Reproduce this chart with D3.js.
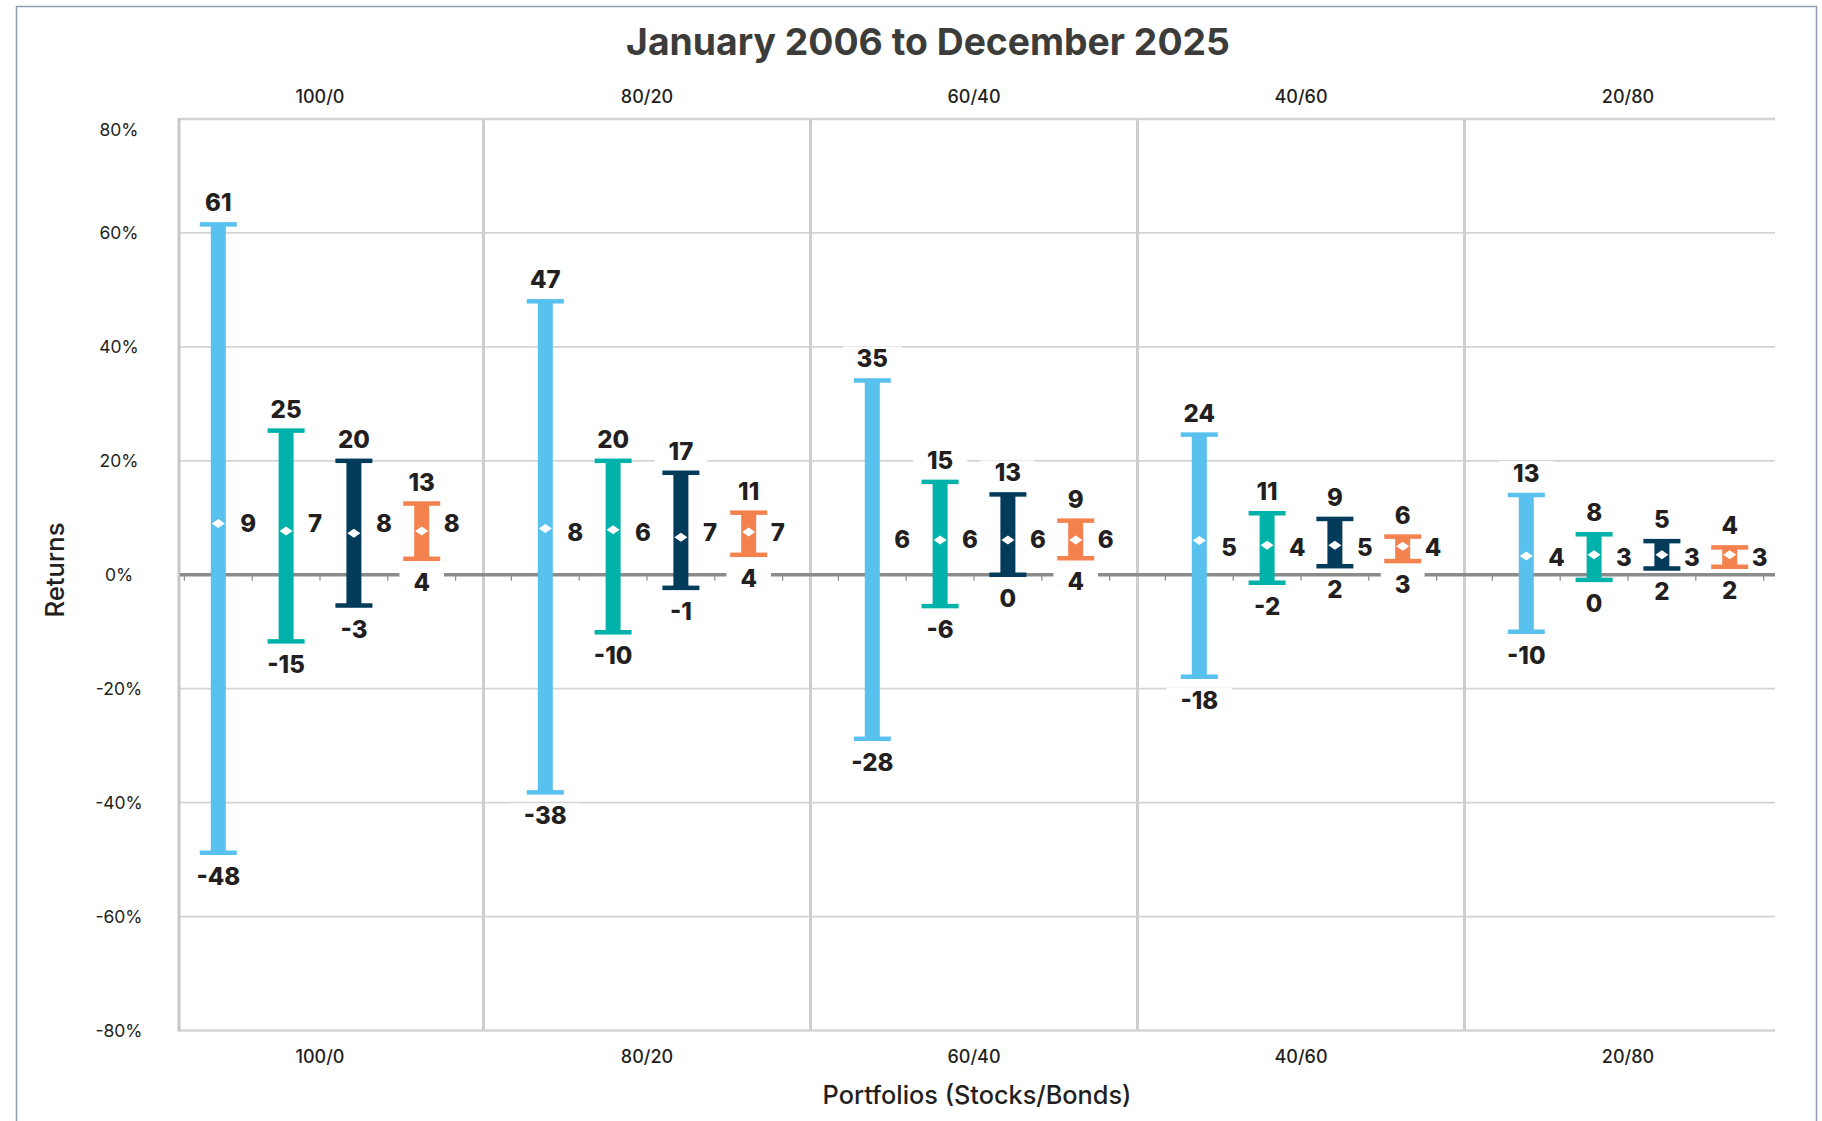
<!DOCTYPE html>
<html>
<head>
<meta charset="utf-8">
<script src="https://cdn.jsdelivr.net/npm/d3@7"></script>
<style>
  body { margin: 0; background: #fff; }
  text { font-family: Inter, "Open Sans", sans-serif; }
</style>
</head>
<body>
<script>
// portfolios (stocks/bonds) and the four range series inside each one
var portfolios = ["100/0", "80/20", "60/40", "40/60", "20/80"];
var seriesColors = ["#58c1ee", "#00b2a9", "#033b5b", "#f4824f"];

// drawn extent of each range (percent), one row per portfolio
var highs = [
  [61.5, 25.3, 20.0, 12.5],
  [48.0, 20.0, 17.9, 10.9],
  [34.1, 16.3, 14.1, 9.5],
  [24.6, 10.8, 9.8, 6.7],
  [14.0, 7.1, 5.9, 4.8]
];
var lows = [
  [-48.8, -11.7, -5.4, 2.8],
  [-38.2, -10.1, -2.3, 3.5],
  [-28.8, -5.5, 0.0, 2.9],
  [-17.9, -1.4, 1.5, 2.4],
  [-10.0, -0.9, 1.1, 1.4]
];
// mean markers (null = no marker shown)
var means = [
  [9.0, 7.7, 7.3, 7.7],
  [8.1, 7.9, 6.6, 7.5],
  [null, 6.1, 6.1, 6.1],
  [6.0, 5.2, 5.2, 5.0],
  [3.3, 3.5, 3.5, 3.5]
];

// printed labels
var highLabels = [[61, 25, 20, 13], [47, 20, 17, 11], [35, 15, 13, 9], [24, 11, 9, 6], [13, 8, 5, 4]];
var lowLabels = [[-48, -15, -3, 4], [-38, -10, -1, 4], [-28, -6, 0, 4], [-18, -2, 2, 3], [-10, 0, 2, 2]];
var meanLabels = [[9, 7, 8, 8], [8, 6, 7, 7], [6, 6, 6, 6], [5, 4, 5, 4], [4, 3, 3, 3]];
var meanLabelLevel = [9.0, 7.4, 6.3, 4.8, 3.1];

var yTicks = [80, 60, 40, 20, 0, -20, -40, -60, -80];

var width = 1822, height = 1121;
var plotLeft = 180, plotRight = 1775, plotTop = 119, plotBottom = 1030.5;

var svg = d3.select("body").append("svg")
  .attr("width", width)
  .attr("height", height);

//outer frame
svg.append("rect")
  .attr("x", 16.5).attr("y", 6.5)
  .attr("width", 1800).attr("height", 1200)
  .attr("fill", "none")
  .attr("stroke", "#8e9cb4")
  .attr("stroke-width", 1.5);

var y = d3.scaleLinear().domain([-80, 80]).range([plotBottom, plotTop]);

var xGroup = d3.scaleBand().domain(portfolios).range([156.5, 1791.5]);
var xInner = d3.scaleBand().domain(d3.range(4)).range([-135.6, 135.6]);

function groupCenter(p) { return xGroup(p) + xGroup.bandwidth() / 2; }
function barX(gi, si) { return groupCenter(portfolios[gi]) + xInner(si) + xInner.bandwidth() / 2; }

//horizontal gridlines
svg.append("g").selectAll("line")
  .data(yTicks.filter(function(d) { return d !== 0; }))
  .enter().append("line")
  .attr("x1", plotLeft).attr("x2", plotRight)
  .attr("y1", function(d) { return y(d); })
  .attr("y2", function(d) { return y(d); })
  .attr("stroke", "#d3d4d6")
  .attr("stroke-width", function(d) { return Math.abs(d) === 80 ? 2.5 : 1.8; });

//group separators
svg.append("g").selectAll("line")
  .data(portfolios.slice(1))
  .enter().append("line")
  .attr("x1", function(d) { return xGroup(d); })
  .attr("x2", function(d) { return xGroup(d); })
  .attr("y1", plotTop).attr("y2", plotBottom)
  .attr("stroke", "#cdced0")
  .attr("stroke-width", 3);

//left axis line
svg.append("line")
  .attr("x1", plotLeft - 1).attr("x2", plotLeft - 1)
  .attr("y1", plotTop - 1).attr("y2", plotBottom + 1)
  .attr("stroke", "#c6c7c9")
  .attr("stroke-width", 3);

//zero line with ticks
svg.append("line")
  .attr("x1", plotLeft).attr("x2", plotRight)
  .attr("y1", y(0)).attr("y2", y(0))
  .attr("stroke", "#8b8b8b")
  .attr("stroke-width", 3.5);

var tickXs = [];
portfolios.forEach(function(p) {
  d3.range(5).forEach(function(k) {
    tickXs.push(groupCenter(p) - 135.6 + k * xInner.bandwidth());
  });
});
svg.append("g").selectAll("line")
  .data(tickXs)
  .enter().append("line")
  .attr("x1", function(d) { return d; })
  .attr("x2", function(d) { return d; })
  .attr("y1", y(0)).attr("y2", y(0) + 6)
  .attr("stroke", "#8b8b8b")
  .attr("stroke-width", 1.2);

//y tick labels
svg.append("g").selectAll("text")
  .data(yTicks)
  .enter().append("text")
  .attr("x", 119)
  .attr("y", function(d) { return y(d) + (d === 80 ? 11 : 0); })
  .attr("dy", "0.36em")
  .attr("text-anchor", "middle")
  .attr("font-size", 17.5)
  .attr("fill", "#231f20")
  .text(function(d) { return d + "%"; });

//category labels, top and bottom
[102.5, 1062.5].forEach(function(ty) {
  svg.append("g").selectAll("text")
    .data(portfolios)
    .enter().append("text")
    .attr("x", function(d) { return groupCenter(d); })
    .attr("y", ty)
    .attr("text-anchor", "middle")
    .attr("font-size", 18)
    .attr("font-weight", 500)
    .attr("fill", "#231f20")
    .text(function(d) { return d; });
});

//make a text fit a measured width
function fitWidth(sel, target) {
  var fs = +sel.attr("font-size");
  var w = sel.node().getComputedTextLength();
  sel.attr("font-size", fs * target / w);
}

//title
var title = svg.append("text")
  .attr("x", 928).attr("y", 55)
  .attr("text-anchor", "middle")
  .attr("font-size", 32)
  .attr("font-weight", 700)
  .attr("fill", "#3c3c3a")
  .text("January 2006 to December 2025");
fitWidth(title, 604);

//axis titles
var xTitle = svg.append("text")
  .attr("x", 977).attr("y", 1104)
  .attr("text-anchor", "middle")
  .attr("font-size", 21)
  .attr("font-weight", 500)
  .attr("fill", "#231f20")
  .text("Portfolios (Stocks/Bonds)");
fitWidth(xTitle, 309);

var yTitle = svg.append("text")
  .attr("transform", "translate(64,570) rotate(-90)")
  .attr("text-anchor", "middle")
  .attr("font-size", 21)
  .attr("font-weight", 500)
  .attr("fill", "#231f20")
  .text("Returns");
fitWidth(yTitle, 95);

//layers
var boxLayer = svg.append("g");
var barLayer = svg.append("g");
var textLayer = svg.append("g");

//flatten data into one record per range
var ranges = [];
portfolios.forEach(function(p, gi) {
  d3.range(4).forEach(function(si) {
    ranges.push({
      gi: gi, si: si,
      hi: highs[gi][si], lo: lows[gi][si], mean: means[gi][si],
      hiLab: highLabels[gi][si], loLab: lowLabels[gi][si], meanLab: meanLabels[gi][si]
    });
  });
});

var stemW = 15, capW = 37, capH = 4.5;

barLayer.selectAll(".stem")
  .data(ranges)
  .enter().append("rect")
  .attr("class", "stem")
  .attr("x", function(d) { return barX(d.gi, d.si) - stemW / 2; })
  .attr("y", function(d) { return y(d.hi); })
  .attr("width", stemW)
  .attr("height", function(d) { return y(d.lo) - y(d.hi); })
  .attr("fill", function(d) { return seriesColors[d.si]; });

["hi", "lo"].forEach(function(k) {
  barLayer.selectAll(".cap-" + k)
    .data(ranges)
    .enter().append("rect")
    .attr("class", "cap-" + k)
    .attr("x", function(d) { return barX(d.gi, d.si) - capW / 2; })
    .attr("y", function(d) { return y(d[k]) - capH / 2; })
    .attr("width", capW)
    .attr("height", capH)
    .attr("fill", function(d) { return seriesColors[d.si]; });
});

//mean diamonds
barLayer.selectAll(".mean")
  .data(ranges.filter(function(d) { return d.mean !== null; }))
  .enter().append("path")
  .attr("class", "mean")
  .attr("d", function(d) {
    var cx = barX(d.gi, d.si), cy = y(d.mean);
    return "M" + (cx - 6.5) + "," + cy + "L" + cx + "," + (cy - 4.5) +
      "L" + (cx + 6.5) + "," + cy + "L" + cx + "," + (cy + 4.5) + "Z";
  })
  .attr("fill", "#fff");

//value labels
function addLabel(x, yy, txt, anchor) {
  var t = textLayer.append("text")
    .attr("x", x).attr("y", yy)
    .attr("text-anchor", anchor)
    .attr("font-size", 24)
    .attr("font-weight", 800)
    .attr("fill", "#231f20")
    .text(txt);
  var b = t.node().getBBox();
  boxLayer.append("rect")
    .attr("x", b.x - 14).attr("y", b.y + 2)
    .attr("width", b.width + 28).attr("height", b.height - 2)
    .attr("fill", "#fff");
}

ranges.forEach(function(d) {
  var cx = barX(d.gi, d.si);
  addLabel(cx, y(d.hi) - 13, d.hiLab, "middle");
  addLabel(cx, y(d.lo) + 32, d.loLab, "middle");
  addLabel(cx + 22, y(meanLabelLevel[d.gi]) + 8.7, d.meanLab, "start");
});
</script>
</body>
</html>
